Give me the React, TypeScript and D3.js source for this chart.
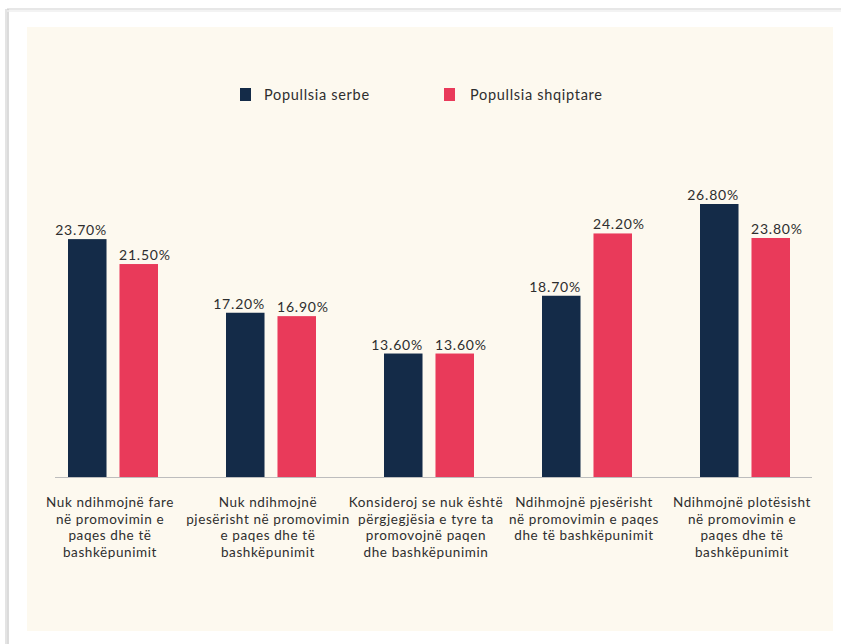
import React from "react";
import * as d3 from "d3";

const categories = [
  ["Nuk ndihmojnë fare", "në promovimin e", "paqes dhe të", "bashkëpunimit"],
  ["Nuk ndihmojnë", "pjesërisht në promovimin", "e paqes dhe të", "bashkëpunimit"],
  ["Konsideroj se nuk është", "përgjegjësia e tyre ta", "promovojnë paqen", "dhe bashkëpunimin"],
  ["Ndihmojnë pjesërisht", "në promovimin e paqes", "dhe të bashkëpunimit"],
  ["Ndihmojnë plotësisht", "në promovimin e", "paqes dhe të", "bashkëpunimit"],
];
const seriesNames = ["Popullsia serbe", "Popullsia shqiptare"];
const serbe = [23.7, 17.2, 13.6, 18.7, 26.8];
const shqiptare = [21.5, 16.9, 13.6, 24.2, 23.8];
const valueLabelsSerbe = ["23.70%", "17.20%", "13.60%", "18.70%", "26.80%"];
const valueLabelsShqiptare = ["21.50%", "16.90%", "13.60%", "24.20%", "23.80%"];

const COLORS = ["#142B48", "#E93A5A"];
const FONT = "Lato, 'Noto Sans', sans-serif";
const TEXT = "#2e2e2e";

export default function App() {
  const W = 841, H = 644;
  const baseY = 477;
  const idx = categories.map((_, i) => String(i));
  const x0 = d3.scaleBand<string>().domain(idx).range([34, 824]).padding(0);
  const x1 = d3.scaleBand<string>().domain(seriesNames).range([34, 124]).paddingInner(0.252).paddingOuter(0);
  const y = d3.scaleLinear().domain([2.7, 26.8]).range([baseY, 204]);
  const data = [serbe, shqiptare];
  const labels = [valueLabelsSerbe, valueLabelsShqiptare];

  return (
    <svg width={W} height={H} style={{ position: "absolute", left: 0, top: 0, fontFamily: FONT }}>
      <rect x={0} y={0} width={W} height={H} fill="#ffffff" />
      {/* card shadow/border */}
      <line x1={6} y1={9} x2={6} y2={H} stroke="#e4e4e4" strokeWidth={2} />
      <line x1={8} y1={9} x2={8} y2={H} stroke="#c4c4c4" strokeWidth={1.2} />
      <line x1={7} y1={9} x2={W} y2={9} stroke="#d0d0d0" strokeWidth={1.2} />
      <line x1={7} y1={11} x2={W} y2={11} stroke="#efefef" strokeWidth={1.5} />
      <rect x={27} y={27} width={806} height={604} fill="#FDF9EF" />

      {/* legend */}
      <g>
        <rect x={240} y={88} width={11} height={13} fill={COLORS[0]} />
        <text x={264} y={100} fontSize={14.5} letterSpacing={0.7} fill={TEXT}>{seriesNames[0]}</text>
        <rect x={444} y={88} width={11} height={13} fill={COLORS[1]} />
        <text x={470} y={100} fontSize={14.5} letterSpacing={0.7} fill={TEXT}>{seriesNames[1]}</text>
      </g>

      {/* bars */}
      {idx.map((c, i) => (
        <g key={c}>
          {seriesNames.map((s, si) => {
            const v = data[si][i];
            const bx = (x0(c) as number) + (x1(s) as number);
            const bw = x1.bandwidth();
            const top = y(v);
            return (
              <g key={s}>
                <rect x={bx} y={top} width={bw} height={baseY - top} fill={COLORS[si]} />
                <text
                  x={si === 0 ? bx + bw + 0.5 : bx - 0.5}
                  y={top - 4}
                  textAnchor={si === 0 ? "end" : "start"}
                  fontSize={14}
                  letterSpacing={0.8}
                  fill={TEXT}
                >
                  {labels[si][i]}
                </text>
              </g>
            );
          })}
        </g>
      ))}

      {/* baseline */}
      <line x1={55} y1={baseY + 0.5} x2={812} y2={baseY + 0.5} stroke="#bdbdbd" strokeWidth={1.2} />

      {/* category labels */}
      {categories.map((lines, i) => {
        const cx = (x0(String(i)) as number) + x0.bandwidth() / 2 - 3;
        return (
          <text key={i} x={cx} y={507} textAnchor="middle" fontSize={13.5} letterSpacing={0.6} fill={TEXT}>
            {lines.map((l, li) => (
              <tspan key={li} x={cx} dy={li === 0 ? 0 : 16.7}>
                {l}
              </tspan>
            ))}
          </text>
        );
      })}
    </svg>
  );
}
